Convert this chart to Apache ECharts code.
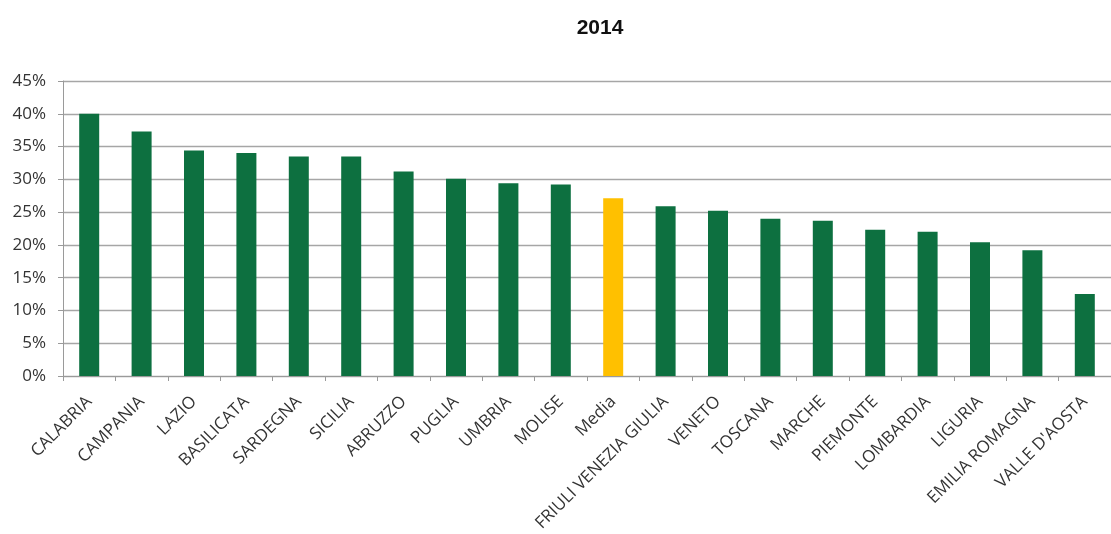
<!DOCTYPE html>
<html><head><meta charset="utf-8">
<script src="https://cdn.jsdelivr.net/npm/echarts@6/dist/echarts.min.js"></script>
<style>html,body{margin:0;padding:0;background:#fff}#c{width:1111px;height:534px}</style>
</head><body><div id="c"></div>
<script>
const categories = ["CALABRIA","CAMPANIA","LAZIO","BASILICATA","SARDEGNA","SICILIA","ABRUZZO","PUGLIA","UMBRIA","MOLISE","Media","FRIULI VENEZIA GIULIA","VENETO","TOSCANA","MARCHE","PIEMONTE","LOMBARDIA","LIGURIA","EMILIA ROMAGNA","VALLE D'AOSTA"];
const values = [40.0,37.3,34.4,34.0,33.5,33.5,31.2,30.1,29.4,29.2,27.1,25.9,25.2,24.0,23.7,22.3,22.0,20.4,19.2,12.5];
const highlight = "Media";
const title = "2014";

const green = "#0d7040", yellow = "#ffc000";
const chart = echarts.init(document.getElementById('c'));
chart.setOption({
  animation:false,
  title:{text:title,left:595,top:13,textAlign:'center',textStyle:{fontFamily:'Liberation Sans',fontSize:21,fontWeight:'bold',color:'#111'}},
  grid:{left:63,right:0,top:81,bottom:158,outerBoundsMode:'none',containLabel:false},
  xAxis:{type:'category',data:categories,
    axisLine:{lineStyle:{color:'#9a9a9a'}},
    axisTick:{show:true,length:5,lineStyle:{color:'#9a9a9a'}},
    axisLabel:{rotate:45,interval:0,margin:23,color:'#333',fontFamily:'Open Sans',fontSize:17}},
  yAxis:{type:'value',min:0,max:45,interval:5,
    axisLine:{show:true,lineStyle:{color:'#9a9a9a'}},
    axisTick:{show:true,length:5,lineStyle:{color:'#9a9a9a'}},
    splitLine:{lineStyle:{color:'#a6a6a6',width:1.3}},
    axisLabel:{formatter:'{value}%',margin:17,color:'#333',fontFamily:'Open Sans',fontSize:17}},
  series:[{type:'bar',barWidth:20,
    data:values.map((v,i)=>({value:v,itemStyle:{color:categories[i]===highlight?yellow:green}}))}]
});
</script></body></html>
